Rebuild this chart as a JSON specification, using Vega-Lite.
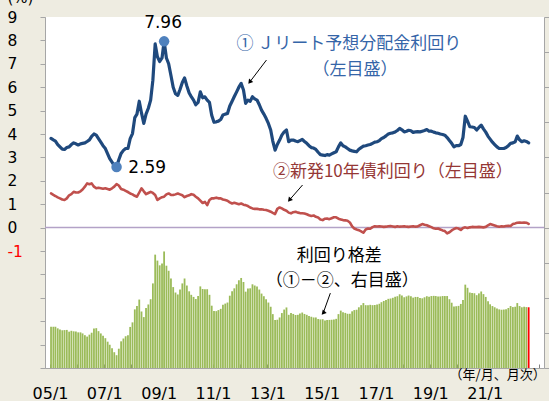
{
  "$schema": "https://vega.github.io/schema/vega-lite/v6.json",
  "width": 499,
  "height": 351,
  "autosize": {"type": "none"},
  "padding": {"left": 45, "top": 17, "right": 5, "bottom": 33},
  "background": "#EEECE1",
  "config": {"view": {"fill": "white", "stroke": null}, "font": "DejaVu Sans"},
  "datasets": {
    "main": [
      {"d":"2005-01-15","reit":3.81,"jgb":1.46,"spread":2.35},
      {"d":"2005-02-15","reit":3.75,"jgb":1.40,"spread":2.35},
      {"d":"2005-03-15","reit":3.70,"jgb":1.35,"spread":2.35},
      {"d":"2005-04-15","reit":3.55,"jgb":1.29,"spread":2.26},
      {"d":"2005-05-15","reit":3.45,"jgb":1.25,"spread":2.20},
      {"d":"2005-06-15","reit":3.35,"jgb":1.20,"spread":2.15},
      {"d":"2005-07-15","reit":3.34,"jgb":1.18,"spread":2.16},
      {"d":"2005-08-15","reit":3.42,"jgb":1.25,"spread":2.17},
      {"d":"2005-09-15","reit":3.45,"jgb":1.38,"spread":2.07},
      {"d":"2005-10-15","reit":3.55,"jgb":1.43,"spread":2.12},
      {"d":"2005-11-15","reit":3.62,"jgb":1.53,"spread":2.09},
      {"d":"2005-12-15","reit":3.58,"jgb":1.50,"spread":2.08},
      {"d":"2006-01-15","reit":3.53,"jgb":1.50,"spread":2.03},
      {"d":"2006-02-15","reit":3.58,"jgb":1.55,"spread":2.03},
      {"d":"2006-03-15","reit":3.60,"jgb":1.63,"spread":1.97},
      {"d":"2006-04-15","reit":3.62,"jgb":1.75,"spread":1.87},
      {"d":"2006-05-15","reit":3.68,"jgb":1.89,"spread":1.79},
      {"d":"2006-06-15","reit":3.75,"jgb":1.85,"spread":1.90},
      {"d":"2006-07-15","reit":3.90,"jgb":1.89,"spread":2.01},
      {"d":"2006-08-15","reit":4.00,"jgb":1.75,"spread":2.25},
      {"d":"2006-09-15","reit":3.95,"jgb":1.68,"spread":2.27},
      {"d":"2006-10-15","reit":3.80,"jgb":1.70,"spread":2.10},
      {"d":"2006-11-15","reit":3.65,"jgb":1.68,"spread":1.97},
      {"d":"2006-12-15","reit":3.50,"jgb":1.66,"spread":1.84},
      {"d":"2007-01-15","reit":3.38,"jgb":1.68,"spread":1.70},
      {"d":"2007-02-15","reit":3.15,"jgb":1.65,"spread":1.50},
      {"d":"2007-03-15","reit":2.95,"jgb":1.62,"spread":1.33},
      {"d":"2007-04-15","reit":2.80,"jgb":1.68,"spread":1.12},
      {"d":"2007-05-15","reit":2.65,"jgb":1.75,"spread":0.90},
      {"d":"2007-06-15","reit":2.59,"jgb":1.86,"spread":0.73},
      {"d":"2007-07-15","reit":2.90,"jgb":1.80,"spread":1.10},
      {"d":"2007-08-15","reit":3.17,"jgb":1.65,"spread":1.52},
      {"d":"2007-09-15","reit":3.30,"jgb":1.62,"spread":1.68},
      {"d":"2007-10-15","reit":3.38,"jgb":1.57,"spread":1.81},
      {"d":"2007-11-15","reit":3.38,"jgb":1.52,"spread":1.86},
      {"d":"2007-12-15","reit":3.80,"jgb":1.46,"spread":2.34},
      {"d":"2008-01-15","reit":4.02,"jgb":1.42,"spread":2.60},
      {"d":"2008-02-15","reit":4.70,"jgb":1.36,"spread":3.34},
      {"d":"2008-03-15","reit":4.85,"jgb":1.32,"spread":3.53},
      {"d":"2008-04-15","reit":5.40,"jgb":1.50,"spread":3.90},
      {"d":"2008-05-15","reit":4.90,"jgb":1.68,"spread":3.22},
      {"d":"2008-06-15","reit":4.45,"jgb":1.55,"spread":2.90},
      {"d":"2008-07-15","reit":4.85,"jgb":1.43,"spread":3.42},
      {"d":"2008-08-15","reit":5.10,"jgb":1.48,"spread":3.62},
      {"d":"2008-09-15","reit":5.45,"jgb":1.53,"spread":3.92},
      {"d":"2008-10-15","reit":6.30,"jgb":1.48,"spread":4.82},
      {"d":"2008-11-15","reit":7.85,"jgb":1.39,"spread":6.46},
      {"d":"2008-12-15","reit":7.30,"jgb":1.18,"spread":6.12},
      {"d":"2009-01-15","reit":7.10,"jgb":1.25,"spread":5.85},
      {"d":"2009-02-15","reit":7.25,"jgb":1.30,"spread":5.95},
      {"d":"2009-03-15","reit":7.96,"jgb":1.32,"spread":6.64},
      {"d":"2009-04-15","reit":7.25,"jgb":1.42,"spread":5.83},
      {"d":"2009-05-15","reit":7.00,"jgb":1.46,"spread":5.54},
      {"d":"2009-06-15","reit":6.50,"jgb":1.40,"spread":5.10},
      {"d":"2009-07-15","reit":6.00,"jgb":1.39,"spread":4.61},
      {"d":"2009-08-15","reit":5.72,"jgb":1.42,"spread":4.30},
      {"d":"2009-09-15","reit":5.65,"jgb":1.46,"spread":4.19},
      {"d":"2009-10-15","reit":5.90,"jgb":1.42,"spread":4.48},
      {"d":"2009-11-15","reit":6.20,"jgb":1.38,"spread":4.82},
      {"d":"2009-12-15","reit":6.40,"jgb":1.30,"spread":5.10},
      {"d":"2010-01-15","reit":6.05,"jgb":1.35,"spread":4.70},
      {"d":"2010-02-15","reit":5.75,"jgb":1.38,"spread":4.37},
      {"d":"2010-03-15","reit":5.60,"jgb":1.43,"spread":4.17},
      {"d":"2010-04-15","reit":5.45,"jgb":1.40,"spread":4.05},
      {"d":"2010-05-15","reit":5.25,"jgb":1.32,"spread":3.93},
      {"d":"2010-06-15","reit":5.35,"jgb":1.25,"spread":4.10},
      {"d":"2010-07-15","reit":5.80,"jgb":1.15,"spread":4.65},
      {"d":"2010-08-15","reit":5.55,"jgb":1.05,"spread":4.50},
      {"d":"2010-09-15","reit":5.59,"jgb":1.10,"spread":4.49},
      {"d":"2010-10-15","reit":5.45,"jgb":0.96,"spread":4.49},
      {"d":"2010-11-15","reit":5.35,"jgb":1.18,"spread":4.17},
      {"d":"2010-12-15","reit":4.80,"jgb":1.25,"spread":3.55},
      {"d":"2011-01-15","reit":4.50,"jgb":1.25,"spread":3.25},
      {"d":"2011-02-15","reit":4.52,"jgb":1.28,"spread":3.24},
      {"d":"2011-03-15","reit":4.55,"jgb":1.25,"spread":3.30},
      {"d":"2011-04-15","reit":4.62,"jgb":1.25,"spread":3.37},
      {"d":"2011-05-15","reit":4.81,"jgb":1.20,"spread":3.61},
      {"d":"2011-06-15","reit":4.85,"jgb":1.18,"spread":3.67},
      {"d":"2011-07-15","reit":4.88,"jgb":1.15,"spread":3.73},
      {"d":"2011-08-15","reit":5.20,"jgb":1.08,"spread":4.12},
      {"d":"2011-09-15","reit":5.40,"jgb":1.03,"spread":4.37},
      {"d":"2011-10-15","reit":5.60,"jgb":1.06,"spread":4.54},
      {"d":"2011-11-15","reit":5.80,"jgb":1.03,"spread":4.77},
      {"d":"2011-12-15","reit":6.00,"jgb":1.00,"spread":5.00},
      {"d":"2012-01-15","reit":6.16,"jgb":1.03,"spread":5.13},
      {"d":"2012-02-15","reit":5.88,"jgb":0.98,"spread":4.90},
      {"d":"2012-03-15","reit":5.31,"jgb":0.96,"spread":4.35},
      {"d":"2012-04-15","reit":5.45,"jgb":0.92,"spread":4.53},
      {"d":"2012-05-15","reit":5.40,"jgb":0.86,"spread":4.54},
      {"d":"2012-06-15","reit":5.59,"jgb":0.82,"spread":4.77},
      {"d":"2012-07-15","reit":5.50,"jgb":0.80,"spread":4.70},
      {"d":"2012-08-15","reit":5.45,"jgb":0.80,"spread":4.65},
      {"d":"2012-09-15","reit":5.25,"jgb":0.78,"spread":4.47},
      {"d":"2012-10-15","reit":5.02,"jgb":0.78,"spread":4.24},
      {"d":"2012-11-15","reit":4.85,"jgb":0.76,"spread":4.09},
      {"d":"2012-12-15","reit":4.67,"jgb":0.75,"spread":3.92},
      {"d":"2013-01-15","reit":4.45,"jgb":0.72,"spread":3.73},
      {"d":"2013-02-15","reit":4.17,"jgb":0.68,"spread":3.49},
      {"d":"2013-03-15","reit":3.70,"jgb":0.63,"spread":3.07},
      {"d":"2013-04-15","reit":3.31,"jgb":0.58,"spread":2.73},
      {"d":"2013-05-15","reit":3.55,"jgb":0.80,"spread":2.75},
      {"d":"2013-06-15","reit":3.74,"jgb":0.86,"spread":2.88},
      {"d":"2013-07-15","reit":3.95,"jgb":0.82,"spread":3.13},
      {"d":"2013-08-15","reit":4.09,"jgb":0.76,"spread":3.33},
      {"d":"2013-09-15","reit":4.17,"jgb":0.72,"spread":3.45},
      {"d":"2013-10-15","reit":3.67,"jgb":0.64,"spread":3.03},
      {"d":"2013-11-15","reit":3.74,"jgb":0.61,"spread":3.13},
      {"d":"2013-12-15","reit":3.74,"jgb":0.66,"spread":3.08},
      {"d":"2014-01-15","reit":3.70,"jgb":0.68,"spread":3.02},
      {"d":"2014-02-15","reit":3.67,"jgb":0.64,"spread":3.03},
      {"d":"2014-03-15","reit":3.72,"jgb":0.62,"spread":3.10},
      {"d":"2014-04-15","reit":3.77,"jgb":0.61,"spread":3.16},
      {"d":"2014-05-15","reit":3.68,"jgb":0.60,"spread":3.08},
      {"d":"2014-06-15","reit":3.60,"jgb":0.57,"spread":3.03},
      {"d":"2014-07-15","reit":3.50,"jgb":0.53,"spread":2.97},
      {"d":"2014-08-15","reit":3.42,"jgb":0.50,"spread":2.92},
      {"d":"2014-09-15","reit":3.40,"jgb":0.52,"spread":2.88},
      {"d":"2014-10-15","reit":3.34,"jgb":0.46,"spread":2.88},
      {"d":"2014-11-15","reit":3.22,"jgb":0.43,"spread":2.79},
      {"d":"2014-12-15","reit":3.12,"jgb":0.35,"spread":2.77},
      {"d":"2015-01-15","reit":3.10,"jgb":0.32,"spread":2.78},
      {"d":"2015-02-15","reit":3.08,"jgb":0.38,"spread":2.70},
      {"d":"2015-03-15","reit":3.12,"jgb":0.39,"spread":2.73},
      {"d":"2015-04-15","reit":3.10,"jgb":0.36,"spread":2.74},
      {"d":"2015-05-15","reit":3.15,"jgb":0.40,"spread":2.75},
      {"d":"2015-06-15","reit":3.20,"jgb":0.44,"spread":2.76},
      {"d":"2015-07-15","reit":3.24,"jgb":0.44,"spread":2.80},
      {"d":"2015-08-15","reit":3.45,"jgb":0.38,"spread":3.07},
      {"d":"2015-09-15","reit":3.62,"jgb":0.35,"spread":3.27},
      {"d":"2015-10-15","reit":3.50,"jgb":0.32,"spread":3.18},
      {"d":"2015-11-15","reit":3.45,"jgb":0.31,"spread":3.14},
      {"d":"2015-12-15","reit":3.38,"jgb":0.29,"spread":3.09},
      {"d":"2016-01-15","reit":3.31,"jgb":0.22,"spread":3.09},
      {"d":"2016-02-15","reit":3.28,"jgb":0.05,"spread":3.23},
      {"d":"2016-03-15","reit":3.26,"jgb":-0.04,"spread":3.30},
      {"d":"2016-04-15","reit":3.24,"jgb":-0.08,"spread":3.32},
      {"d":"2016-05-15","reit":3.35,"jgb":-0.11,"spread":3.46},
      {"d":"2016-06-15","reit":3.42,"jgb":-0.16,"spread":3.58},
      {"d":"2016-07-15","reit":3.48,"jgb":-0.22,"spread":3.70},
      {"d":"2016-08-15","reit":3.50,"jgb":-0.08,"spread":3.58},
      {"d":"2016-09-15","reit":3.53,"jgb":-0.04,"spread":3.57},
      {"d":"2016-10-15","reit":3.55,"jgb":-0.05,"spread":3.60},
      {"d":"2016-11-15","reit":3.60,"jgb":0.02,"spread":3.58},
      {"d":"2016-12-15","reit":3.65,"jgb":0.06,"spread":3.59},
      {"d":"2017-01-15","reit":3.67,"jgb":0.05,"spread":3.62},
      {"d":"2017-02-15","reit":3.72,"jgb":0.06,"spread":3.66},
      {"d":"2017-03-15","reit":3.80,"jgb":0.05,"spread":3.75},
      {"d":"2017-04-15","reit":3.85,"jgb":0.03,"spread":3.82},
      {"d":"2017-05-15","reit":3.92,"jgb":0.04,"spread":3.88},
      {"d":"2017-06-15","reit":4.00,"jgb":0.06,"spread":3.94},
      {"d":"2017-07-15","reit":4.03,"jgb":0.07,"spread":3.96},
      {"d":"2017-08-15","reit":4.05,"jgb":0.05,"spread":4.00},
      {"d":"2017-09-15","reit":4.09,"jgb":0.03,"spread":4.06},
      {"d":"2017-10-15","reit":4.15,"jgb":0.06,"spread":4.09},
      {"d":"2017-11-15","reit":4.24,"jgb":0.04,"spread":4.20},
      {"d":"2017-12-15","reit":4.18,"jgb":0.05,"spread":4.13},
      {"d":"2018-01-15","reit":4.09,"jgb":0.06,"spread":4.03},
      {"d":"2018-02-15","reit":4.12,"jgb":0.04,"spread":4.08},
      {"d":"2018-03-15","reit":4.16,"jgb":0.03,"spread":4.13},
      {"d":"2018-04-15","reit":4.14,"jgb":0.05,"spread":4.09},
      {"d":"2018-05-15","reit":4.07,"jgb":0.06,"spread":4.01},
      {"d":"2018-06-15","reit":4.09,"jgb":0.04,"spread":4.05},
      {"d":"2018-07-15","reit":4.10,"jgb":0.05,"spread":4.05},
      {"d":"2018-08-15","reit":4.09,"jgb":0.10,"spread":3.99},
      {"d":"2018-09-15","reit":4.12,"jgb":0.15,"spread":3.97},
      {"d":"2018-10-15","reit":4.15,"jgb":0.12,"spread":4.03},
      {"d":"2018-11-15","reit":4.19,"jgb":0.10,"spread":4.09},
      {"d":"2018-12-15","reit":4.12,"jgb":0.06,"spread":4.06},
      {"d":"2019-01-15","reit":4.12,"jgb":0.02,"spread":4.10},
      {"d":"2019-02-15","reit":4.08,"jgb":-0.03,"spread":4.11},
      {"d":"2019-03-15","reit":4.05,"jgb":-0.05,"spread":4.10},
      {"d":"2019-04-15","reit":4.03,"jgb":-0.04,"spread":4.07},
      {"d":"2019-05-15","reit":4.00,"jgb":-0.08,"spread":4.08},
      {"d":"2019-06-15","reit":3.98,"jgb":-0.12,"spread":4.10},
      {"d":"2019-07-15","reit":3.95,"jgb":-0.15,"spread":4.10},
      {"d":"2019-08-15","reit":3.85,"jgb":-0.25,"spread":4.10},
      {"d":"2019-09-15","reit":3.72,"jgb":-0.20,"spread":3.92},
      {"d":"2019-10-15","reit":3.60,"jgb":-0.12,"spread":3.72},
      {"d":"2019-11-15","reit":3.45,"jgb":-0.06,"spread":3.51},
      {"d":"2019-12-15","reit":3.50,"jgb":-0.02,"spread":3.52},
      {"d":"2020-01-15","reit":3.50,"jgb":-0.04,"spread":3.54},
      {"d":"2020-02-15","reit":3.55,"jgb":-0.10,"spread":3.65},
      {"d":"2020-03-15","reit":3.85,"jgb":-0.02,"spread":3.87},
      {"d":"2020-04-15","reit":4.76,"jgb":0.01,"spread":4.75},
      {"d":"2020-05-15","reit":4.55,"jgb":-0.02,"spread":4.57},
      {"d":"2020-06-15","reit":4.31,"jgb":0.01,"spread":4.30},
      {"d":"2020-07-15","reit":4.30,"jgb":0.03,"spread":4.27},
      {"d":"2020-08-15","reit":4.28,"jgb":0.02,"spread":4.26},
      {"d":"2020-09-15","reit":4.17,"jgb":0.02,"spread":4.15},
      {"d":"2020-10-15","reit":4.28,"jgb":0.03,"spread":4.25},
      {"d":"2020-11-15","reit":4.38,"jgb":0.02,"spread":4.36},
      {"d":"2020-12-15","reit":4.22,"jgb":0.01,"spread":4.21},
      {"d":"2021-01-15","reit":4.08,"jgb":0.03,"spread":4.05},
      {"d":"2021-02-15","reit":3.90,"jgb":0.10,"spread":3.80},
      {"d":"2021-03-15","reit":3.78,"jgb":0.15,"spread":3.63},
      {"d":"2021-04-15","reit":3.65,"jgb":0.12,"spread":3.53},
      {"d":"2021-05-15","reit":3.55,"jgb":0.09,"spread":3.46},
      {"d":"2021-06-15","reit":3.45,"jgb":0.06,"spread":3.39},
      {"d":"2021-07-15","reit":3.38,"jgb":0.04,"spread":3.34},
      {"d":"2021-08-15","reit":3.38,"jgb":0.06,"spread":3.32},
      {"d":"2021-09-15","reit":3.38,"jgb":0.05,"spread":3.33},
      {"d":"2021-10-15","reit":3.42,"jgb":0.07,"spread":3.35},
      {"d":"2021-11-15","reit":3.50,"jgb":0.08,"spread":3.42},
      {"d":"2021-12-15","reit":3.60,"jgb":0.07,"spread":3.53},
      {"d":"2022-01-15","reit":3.62,"jgb":0.15,"spread":3.47},
      {"d":"2022-02-15","reit":3.67,"jgb":0.18,"spread":3.49},
      {"d":"2022-03-15","reit":3.91,"jgb":0.21,"spread":3.70},
      {"d":"2022-04-15","reit":3.75,"jgb":0.22,"spread":3.53},
      {"d":"2022-05-15","reit":3.67,"jgb":0.21,"spread":3.46},
      {"d":"2022-06-15","reit":3.71,"jgb":0.22,"spread":3.49},
      {"d":"2022-07-15","reit":3.68,"jgb":0.21,"spread":3.47},
      {"d":"2022-08-15","reit":3.62,"jgb":0.16,"spread":3.46}
    ],
    "notes": [
      {"kind":"zero","d":"2005-01-15","v":0,"t":""},
      {"kind":"dot","d":"2009-03-15","v":7.96,"t":"7.96"},
      {"kind":"dot","d":"2007-06-15","v":2.59,"t":"2.59"},
      {"kind":"numc","d":"2009-03-01","v":8.75,"t":"7.96"},
      {"kind":"numl","d":"2007-11-20","v":2.56,"t":"2.59"},
      {"kind":"blue","d":"2016-01-01","v":7.84,"t":"① Ｊリート予想分配金利回り"},
      {"kind":"blue","d":"2016-03-25","v":6.73,"t":"（左目盛）"},
      {"kind":"red","d":"2017-08-15","v":2.39,"t":"②新発10年債利回り（左目盛）"},
      {"kind":"black","d":"2015-08-25","v":-1.22,"t":"利回り格差"},
      {"kind":"black","d":"2015-10-04","v":-2.29,"t":"（①－②、右目盛）"},
      {"kind":"unit","d":"2023-04-01","v":-6.30,"t":"（年/月、月次）"}
    ]
  },
  "layer": [
    {
      "data": {"name": "main"},
      "mark": {"type": "bar", "width": 1.8},
      "encoding": {
        "x": {"field": "d", "type": "temporal",
              "scale": {"type": "utc", "domain": [{"year": 2005, "month": 1, "date": 1, "utc": true}, {"year": 2023, "month": 1, "date": 1, "utc": true}]}},
        "y": {"field": "spread", "type": "quantitative",
              "scale": {"domain": [0, 20], "nice": false, "zero": true},
              "axis": {"orient": "right", "values": [0,1,2,3,4,5,6,7,8,9,10,11,12,13,14,15,16,17,18,19,20], "tickCount": 20,
                       "labels": false, "title": null, "grid": false, "domainColor": "#A6A6A6", "tickColor": "#A6A6A6", "tickSize": 5}},
        "color": {"condition": {"test": "utcyear(datum.d) == 2022 && utcmonth(datum.d) == 7", "value": "#FF0000"}, "value": "#9BBB59"}
      }
    },
    {
      "resolve": {"axis": {"y": "independent"}},
      "layer": [
        {
          "data": {"name": "notes"},
          "transform": [{"filter": "datum.kind == 'zero'"}],
          "mark": {"type": "rule", "color": "#B3A2C7", "strokeWidth": 1.5},
          "encoding": {
            "y": {"field": "v", "type": "quantitative", "scale": {"domain": [-6, 9], "nice": false, "zero": false},
                  "axis": {"orient": "left", "values": [-5,-3,-1,1,3,5,7,9],
                           "labelExpr": "datum.value >= -1 ? '' + datum.value : ''",
                           "labelColor": {"condition": {"test": "datum.value == -1", "value": "#FF0000"}, "value": "#000000"},
                           "labelFont": "DejaVu Sans", "labelFontSize": 15.5, "labelAlign": "left", "labelPadding": 33,
                           "labelOverlap": false, "labelFlush": false, "labelBound": false,
                           "domainColor": "#A6A6A6", "tickColor": "#A6A6A6", "tickSize": 5, "grid": false, "title": null}}
          }
        },
        {
          "data": {"name": "main"},
          "transform": [{"fold": ["jgb", "reit"], "as": ["series", "v"]}],
          "mark": {"type": "line", "strokeJoin": "round", "strokeCap": "round"},
          "encoding": {
            "x": {"field": "d", "type": "temporal",
                  "scale": {"type": "utc", "domain": [{"year": 2005, "month": 1, "date": 1, "utc": true}, {"year": 2023, "month": 1, "date": 1, "utc": true}]},
                  "axis": {"orient": "bottom", "tickCount": {"interval": "year", "step": 1},
                           "labelExpr": "(utcyear(datum.value) % 2 == 1 && utcyear(datum.value) < 2023) ? utcFormat(datum.value, '%y/%-m') : ''",
                           "labelFont": "DejaVu Sans", "labelFontSize": 16, "labelColor": "#000000",
                           "labelPadding": 21, "labelOverlap": false, "labelFlush": false,
                           "domainColor": "#A6A6A6", "tickColor": "#808080", "tickSize": -4, "grid": false, "title": null}},
            "y": {"field": "v", "type": "quantitative",
                  "scale": {"domain": [-6, 9], "nice": false, "zero": false},
                  "axis": {"orient": "left", "values": [-6,-4,-2,0,2,4,6,8],
                           "labelExpr": "datum.value >= -1 ? '' + datum.value : ''",
                           "labelColor": "#000000",
                           "labelFont": "DejaVu Sans", "labelFontSize": 15.5, "labelAlign": "left", "labelPadding": 33,
                           "labelOverlap": false, "labelFlush": false, "labelBound": false,
                           "domainColor": "#A6A6A6", "tickColor": "#A6A6A6", "tickSize": 5, "grid": false,
                           "title": "(%)", "titleAngle": 0, "titleX": -25, "titleY": -15, "titleAlign": "center",
                           "titleBaseline": "alphabetic", "titleFont": "DejaVu Sans", "titleFontSize": 15, "titleFontWeight": "normal", "titleColor": "#000000"}},
            "color": {"field": "series", "type": "nominal", "scale": {"domain": ["reit", "jgb"], "range": ["#1F497D", "#C0504D"]}, "legend": null},
            "strokeWidth": {"field": "series", "type": "nominal", "scale": {"domain": ["reit", "jgb"], "range": [3.2, 2.6]}, "legend": null}
          }
        },
        {
          "data": {"values": [
            {"id": 1, "d": "2012-12-20", "v": 7.16, "d2": "2012-05-09", "v2": 6.22},
            {"id": 2, "d": "2014-04-19", "v": 1.82, "d2": "2013-10-25", "v2": 1.18},
            {"id": 3, "d": "2015-04-28", "v": -2.80, "d2": "2015-01-22", "v2": -3.65}
          ], "format": {"parse": {"d": "date", "d2": "date"}}},
          "layer": [
            {
              "mark": {"type": "rule", "color": "#000000", "strokeWidth": 1},
              "encoding": {
                "x": {"field": "d", "type": "temporal", "scale": {"type": "utc", "domain": [{"year": 2005, "month": 1, "date": 1, "utc": true}, {"year": 2023, "month": 1, "date": 1, "utc": true}]}},
                "x2": {"field": "d2"},
                "y": {"field": "v", "type": "quantitative", "scale": {"domain": [-6, 9], "nice": false, "zero": false}, "axis": null},
                "y2": {"field": "v2"}
              }
            },
            {
              "mark": {"type": "point", "shape": "triangle-up", "filled": true, "color": "#000000", "size": 28, "opacity": 1},
              "encoding": {
                "x": {"field": "d2", "type": "temporal", "scale": {"type": "utc", "domain": [{"year": 2005, "month": 1, "date": 1, "utc": true}, {"year": 2023, "month": 1, "date": 1, "utc": true}]}},
                "y": {"field": "v2", "type": "quantitative", "scale": {"domain": [-6, 9], "nice": false, "zero": false}, "axis": null},
                "angle": {"field": "id", "type": "ordinal", "scale": {"domain": [1, 2, 3], "range": [218, 222, 200]}, "legend": null}
              }
            }
          ]
        },
        {
          "data": {"name": "notes"},
          "transform": [{"filter": "datum.kind == 'dot'"}],
          "mark": {"type": "circle", "color": "#4F81BD", "size": 110, "opacity": 1},
          "encoding": {
            "x": {"field": "d", "type": "temporal", "scale": {"type": "utc", "domain": [{"year": 2005, "month": 1, "date": 1, "utc": true}, {"year": 2023, "month": 1, "date": 1, "utc": true}]}},
            "y": {"field": "v", "type": "quantitative", "scale": {"domain": [-6, 9], "nice": false, "zero": false}, "axis": null}
          }
        },
        {
          "data": {"name": "notes"},
          "transform": [{"filter": "datum.kind == 'numc'"}],
          "mark": {"type": "text", "font": "DejaVu Sans", "fontSize": 17, "color": "#000000", "baseline": "middle", "align": "center"},
          "encoding": {
            "x": {"field": "d", "type": "temporal", "scale": {"type": "utc", "domain": [{"year": 2005, "month": 1, "date": 1, "utc": true}, {"year": 2023, "month": 1, "date": 1, "utc": true}]}},
            "y": {"field": "v", "type": "quantitative", "scale": {"domain": [-6, 9], "nice": false, "zero": false}, "axis": null},
            "text": {"field": "t"}
          }
        },
        {
          "data": {"name": "notes"},
          "transform": [{"filter": "datum.kind == 'numl'"}],
          "mark": {"type": "text", "font": "DejaVu Sans", "fontSize": 17, "color": "#000000", "baseline": "middle", "align": "left"},
          "encoding": {
            "x": {"field": "d", "type": "temporal", "scale": {"type": "utc", "domain": [{"year": 2005, "month": 1, "date": 1, "utc": true}, {"year": 2023, "month": 1, "date": 1, "utc": true}]}},
            "y": {"field": "v", "type": "quantitative", "scale": {"domain": [-6, 9], "nice": false, "zero": false}, "axis": null},
            "text": {"field": "t"}
          }
        },
        {
          "data": {"name": "notes"},
          "transform": [{"filter": "datum.kind == 'blue'"}],
          "mark": {"type": "text", "font": "Noto Sans CJK JP", "fontSize": 17, "align": "center", "baseline": "middle", "color": "#3565A8"},
          "encoding": {
            "x": {"field": "d", "type": "temporal", "scale": {"type": "utc", "domain": [{"year": 2005, "month": 1, "date": 1, "utc": true}, {"year": 2023, "month": 1, "date": 1, "utc": true}]}},
            "y": {"field": "v", "type": "quantitative", "scale": {"domain": [-6, 9], "nice": false, "zero": false}, "axis": null},
            "text": {"field": "t"}
          }
        },
        {
          "data": {"name": "notes"},
          "transform": [{"filter": "datum.kind == 'red'"}],
          "mark": {"type": "text", "font": "Noto Sans CJK JP", "fontSize": 17, "align": "center", "baseline": "middle", "color": "#953735"},
          "encoding": {
            "x": {"field": "d", "type": "temporal", "scale": {"type": "utc", "domain": [{"year": 2005, "month": 1, "date": 1, "utc": true}, {"year": 2023, "month": 1, "date": 1, "utc": true}]}},
            "y": {"field": "v", "type": "quantitative", "scale": {"domain": [-6, 9], "nice": false, "zero": false}, "axis": null},
            "text": {"field": "t"}
          }
        },
        {
          "data": {"name": "notes"},
          "transform": [{"filter": "datum.kind == 'black'"}],
          "mark": {"type": "text", "font": "Noto Sans CJK JP", "fontSize": 17, "align": "center", "baseline": "middle", "color": "#000000"},
          "encoding": {
            "x": {"field": "d", "type": "temporal", "scale": {"type": "utc", "domain": [{"year": 2005, "month": 1, "date": 1, "utc": true}, {"year": 2023, "month": 1, "date": 1, "utc": true}]}},
            "y": {"field": "v", "type": "quantitative", "scale": {"domain": [-6, 9], "nice": false, "zero": false}, "axis": null},
            "text": {"field": "t"}
          }
        },
        {
          "data": {"name": "notes"},
          "transform": [{"filter": "datum.kind == 'unit'"}],
          "mark": {"type": "text", "font": "Noto Sans CJK JP", "fontSize": 13, "align": "right", "baseline": "middle", "color": "#000000"},
          "encoding": {
            "x": {"field": "d", "type": "temporal", "scale": {"type": "utc", "domain": [{"year": 2005, "month": 1, "date": 1, "utc": true}, {"year": 2023, "month": 1, "date": 1, "utc": true}]}},
            "y": {"field": "v", "type": "quantitative", "scale": {"domain": [-6, 9], "nice": false, "zero": false}, "axis": null},
            "text": {"field": "t"}
          }
        }
      ]
    }
  ],
  "resolve": {"scale": {"y": "independent"}, "axis": {"y": "independent"}}
}
